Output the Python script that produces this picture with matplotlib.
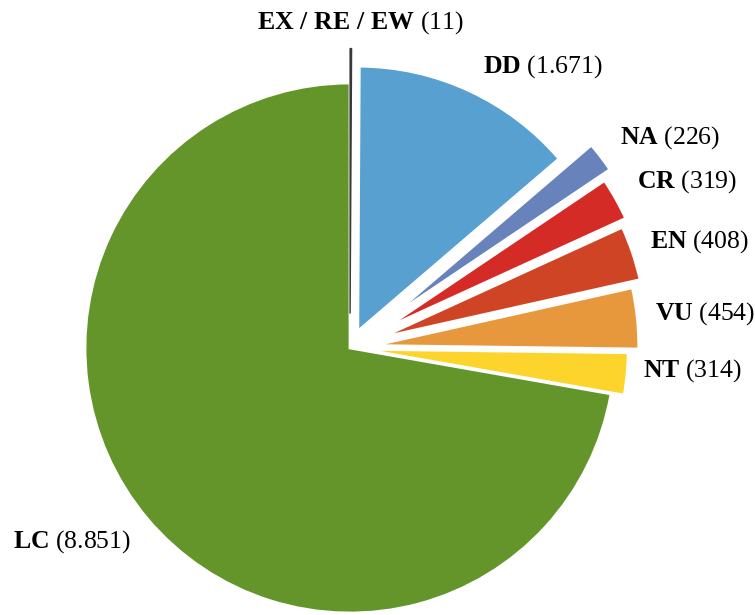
import matplotlib
matplotlib.use("Agg")
import matplotlib.pyplot as plt

# IUCN categories, counts
cats = ["EX / RE / EW", "DD", "NA", "CR", "EN", "VU", "NT", "LC"]
counts = [11, 1671, 226, 319, 408, 454, 314, 8851]

colors = ["#1c1c1c", "#57a0cf", "#6883bb", "#d52b27", "#d04426", "#e8983c", "#fdd42c", "#64952b"]
explode = [0.13, 0.07, 0.19, 0.15, 0.125, 0.09, 0.05, 0.0]

# label anchors (pixel coords of left/baseline in the 755x615 image)
lab_px = [(257, 29), (483, 73), (620, 144), (637, 188), (650, 248), (655, 320), (643, 377), (13, 548)]

plt.rcParams["font.family"] = ["Liberation Serif", "DejaVu Serif"]
plt.rcParams["mathtext.fontset"] = "custom"
plt.rcParams["mathtext.rm"] = "Liberation Serif"
plt.rcParams["mathtext.bf"] = "Liberation Serif:bold"

CX, CY, R = 350, 348, 265.0

fig = plt.figure(figsize=(7.55, 6.15), dpi=100)
ax = fig.add_axes([0, 0, 1, 1])

wedges, _ = ax.pie(counts, explode=explode, colors=colors, startangle=90,
                   counterclock=False, radius=1,
                   wedgeprops=dict(edgecolor="white", linewidth=2))
# the tiny EX slice shows only as a thin dark line
wedges[0].set_edgecolor("#3a3a3a")
wedges[0].set_linewidth(1.0)
wedges[0].set_zorder(5)

for c, v, (px, py) in zip(cats, counts, lab_px):
    num = f"{v:,}".replace(",", ".")
    bold = c.replace(" ", r"\;")
    ax.text((px - CX) / R, (CY - py) / R, r"$\mathbf{" + bold + "}$ (" + num + ")",
            fontsize=18.5, ha="left", va="baseline", color="black")

ax.set_aspect("auto")
ax.set_xlim(-CX / R, (755 - CX) / R)
ax.set_ylim((CY - 615) / R, CY / R)
ax.axis("off")

fig.savefig("out.png", dpi=100)
